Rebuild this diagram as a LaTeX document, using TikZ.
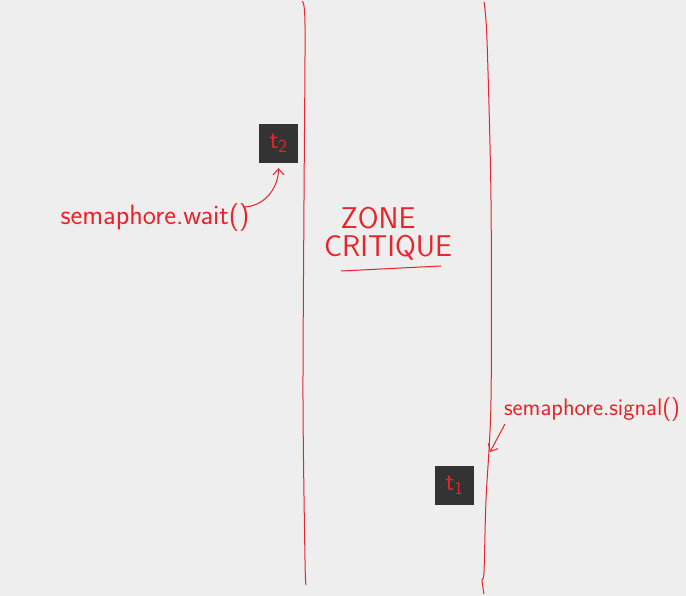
\documentclass[tikz,border=0pt]{standalone}
\usepackage{tikz}
\usetikzlibrary{arrows.meta, positioning}
\definecolor{inkred}{HTML}{E8232A}
\definecolor{slate}{HTML}{333333}
\definecolor{paper}{HTML}{EEEEEE}

\begin{document}
\begin{tikzpicture}[x=1pt, y=-1pt,
                    thread/.style={rectangle, fill=slate, minimum size=39pt, inner sep=0pt, text=inkred, font=\sffamily\fontsize{26}{26}\selectfont},
                    scrawl/.style={text=inkred, inner sep=0pt, font=\sffamily\fontsize{28}{28}\selectfont},
                    wall/.style={draw=inkred, line width=1pt},
                    note/.style={draw=inkred, line width=1pt, -{Straight Barb[length=6pt, width=11pt]}},
                    node distance=0.5cm]

% Paper
\fill[paper] (0,0) rectangle (686,596);
\useasboundingbox (0,0) rectangle (686,596);

% The two walls of the critical zone
\draw[wall] plot[smooth] coordinates {(302,2) (305,25) (304,200) (303,400) (305,560) (306,585)};
\draw[wall] plot[smooth] coordinates {(484,2) (487,40) (491,200) (491,400) (486,500) (484,572) (482,580) (484,594)};

% Threads
\node[thread] (t2) at (278.5,143.5) {t\textsubscript{2}};
\node[thread] (t1) at (454.5,485.5) {t\textsubscript{1}};

% Zone label
\node[scrawl, font=\sffamily\fontsize{30}{30}\selectfont] (zone) at (378,218) {ZONE};
\node[scrawl, font=\sffamily\fontsize{30}{30}\selectfont, below=6pt of zone, xshift=10pt] (crit) {CRITIQUE};
\draw[wall] (341,271) -- (441,266);

% Semaphore calls
\node[scrawl] (wait) at (155,218) {semaphore.wait()};
\draw[note] (243,207) to[out=0, in=-90] ([yshift=-5pt]t2.south);

\node[scrawl, font=\sffamily\fontsize{24}{24}\selectfont] (signal) at (592,410) {semaphore.signal()};
\coordinate (hit) at (490,452);
\draw[note] ([xshift=1pt, yshift=-2pt]signal.south west) -- (hit);

\end{tikzpicture}
\end{document}
